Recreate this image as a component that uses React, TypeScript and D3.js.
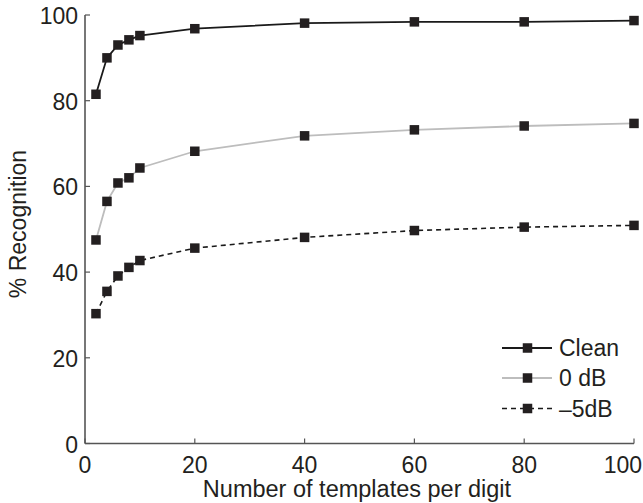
import React from "react";
import * as d3 from "d3";

const templates = [2, 4, 6, 8, 10, 20, 40, 60, 80, 100];
const clean = [81.5, 90.0, 93.0, 94.2, 95.2, 96.8, 98.1, 98.4, 98.4, 98.7];
const db0 = [47.5, 56.5, 60.8, 62.0, 64.3, 68.2, 71.8, 73.2, 74.1, 74.7];
const dbm5 = [30.3, 35.5, 39.1, 41.1, 42.7, 45.6, 48.1, 49.7, 50.5, 50.9];
const seriesNames = ["Clean", "0 dB", "\u20135dB"];
const xTicks = [0, 20, 40, 60, 80, 100];
const yTicks = [0, 20, 40, 60, 80, 100];
const xLabel = "Number of templates per digit";
const yLabel = "% Recognition";

const W = 643;
const H = 503;
const L = 85, R = 634, T = 15, B = 443.5;
const FONT = "'Liberation Sans', Arial, Helvetica, sans-serif";

export default function App() {
  const x = d3.scaleLinear().domain([0, 100]).range([L, R]);
  const y = d3.scaleLinear().domain([0, 100]).range([B, T]);
  const line = d3
    .line<[number, number]>()
    .x((d) => x(d[0]))
    .y((d) => y(d[1]));

  const series = [
    { name: seriesNames[0], vals: clean, stroke: "#1a1a1a", width: 1.8, dash: undefined as string | undefined },
    { name: seriesNames[1], vals: db0, stroke: "#bdbdbd", width: 1.8, dash: undefined },
    { name: seriesNames[2], vals: dbm5, stroke: "#1a1a1a", width: 1.6, dash: "5,4" },
  ];
  const ms = 9.5;
  const legendY = [348, 378, 408.5];

  return (
    <svg width={W} height={H} style={{ position: "absolute", left: 0, top: 0, background: "#fff" }}>
      <rect x={0} y={0} width={W} height={H} fill="#fff" />
      {/* axes */}
      <line x1={L} x2={R} y1={B} y2={B} stroke="#555" strokeWidth={1.6} />
      <line x1={L} x2={L} y1={T} y2={B} stroke="#555" strokeWidth={1.6} />
      {xTicks.map((t, i) => {
        const last = i === xTicks.length - 1;
        return (
          <g key={"xt" + t}>
            <line x1={x(t)} x2={x(t)} y1={B} y2={B - 5} stroke="#555" strokeWidth={1.2} />
            <text
              x={last ? W - 1 : x(t)}
              y={B + 29}
              textAnchor={last ? "end" : "middle"}
              fontFamily={FONT}
              fontSize={23}
              fill="#231f20"
            >
              {t}
            </text>
          </g>
        );
      })}
      {yTicks.map((t) => (
        <g key={"yt" + t}>
          <line x1={L} x2={L + 5} y1={y(t)} y2={y(t)} stroke="#555" strokeWidth={1.2} />
          <text x={78} y={y(t) + 9} textAnchor="end" fontFamily={FONT} fontSize={23} fill="#231f20">
            {t}
          </text>
        </g>
      ))}
      <text x={357} y={497} textAnchor="middle" fontFamily={FONT} fontSize={23.5} fill="#231f20">
        {xLabel}
      </text>
      <text
        transform={`translate(26,224) rotate(-90)`}
        textAnchor="middle"
        fontFamily={FONT}
        fontSize={23}
        fill="#231f20"
      >
        {yLabel}
      </text>
      {/* series */}
      {series.map((s) => {
        const pts = templates.map((t, i) => [t, s.vals[i]] as [number, number]);
        return (
          <g key={s.name}>
            <path d={line(pts) || ""} fill="none" stroke={s.stroke} strokeWidth={s.width} strokeDasharray={s.dash} />
            {pts.map((p, i) => (
              <rect key={i} x={x(p[0]) - ms / 2} y={y(p[1]) - ms / 2} width={ms} height={ms} fill="#231f20" />
            ))}
          </g>
        );
      })}
      {/* legend */}
      {series.map((s, i) => (
        <g key={"lg" + s.name}>
          <line x1={502} x2={552} y1={legendY[i]} y2={legendY[i]} stroke={s.stroke} strokeWidth={s.width} strokeDasharray={s.dash} />
          <rect x={527.5 - ms / 2} y={legendY[i] - ms / 2} width={ms} height={ms} fill="#231f20" />
          <text x={559} y={legendY[i] + 8} fontFamily={FONT} fontSize={23} fill="#231f20">
            {s.name}
          </text>
        </g>
      ))}
    </svg>
  );
}
